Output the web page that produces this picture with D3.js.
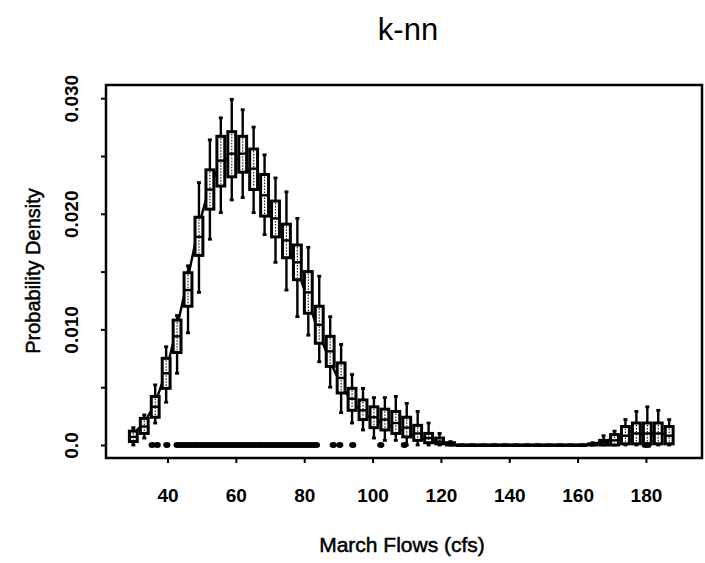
<!DOCTYPE html>
<meta charset="utf-8">
<style>
  body { margin: 0; background: #fff; }
  text { font-family: "Liberation Sans", Arial, sans-serif; fill: #000; }
  .tick text { font-size: 19px; font-weight: bold; }
  .lab { stroke: #000; stroke-width: 0.5px; }
</style>
<svg width="705" height="563"></svg>
<script src="https://d3js.org/d3.v7.min.js"></script>
<script>

// evaluation points (cfs)
var flows = [30, 33.2, 36.4, 39.6, 42.8, 46, 49.2, 52.4, 55.6, 58.8,
  62, 65.2, 68.4, 71.6, 74.8, 78, 81.2, 84.4, 87.6, 90.8,
  94, 97.2, 100.4, 103.6, 106.8, 110, 113.2, 116.4, 119.6, 122.8,
  126, 129.2, 132.4, 135.6, 138.8, 142, 145.2, 148.4, 151.6, 154.8,
  158, 161.2, 164.4, 167.6, 170.8, 174, 177.2, 180.4, 183.6, 186.8];

// boxplot stats of simulated densities at each point
var whiskLo = [0, .0006, .0019, .0037, .0062, .0097, .0132, .0178, .0201, .0212,
  .0214, .0201, .0182, .0158, .0134, .0111, .0095, .0072, .0050, .0028,
  .0019, .0013, .0006, .0004, .0004, 0, 0, 0, 0, 0,
  0, 0, 0, 0, 0, 0, 0, 0, 0, 0,
  0, 0, 0, 0, 0, 0, 0, 0, 0, 0];
var q1 = [.0003, .0010, .0024, .0049, .0080, .0120, .0164, .0204, .0224, .0232,
  .0236, .0221, .0198, .0180, .0162, .0143, .0114, .0088, .0068, .0045,
  .0030, .0022, .0015, .0013, .0010, .0007, .0004, .0002, .0001, 0,
  0, 0, 0, 0, 0, 0, 0, 0, 0, 0,
  0, 0, 0, 0, 0, .0001, .0001, .0001, .0001, .0001];
var med = [.0007, .0016, .0033, .0062, .0094, .0134, .0180, .0221, .0246, .0252,
  .0252, .0239, .0216, .0196, .0177, .0158, .0132, .0104, .0081, .0058,
  .0040, .0030, .0024, .0022, .0019, .0015, .0010, .0006, .0003, .0001,
  0, 0, 0, 0, 0, 0, 0, 0, 0, 0,
  0, 0, 0, .0002, .0004, .0008, .0010, .0010, .0010, .0008];
var q3 = [.0012, .0023, .0042, .0075, .0108, .0149, .0197, .0238, .0267, .0271,
  .0267, .0256, .0234, .0211, .0191, .0173, .0150, .0120, .0094, .0071,
  .0049, .0039, .0033, .0031, .0029, .0024, .0017, .0010, .0006, .0002,
  0, 0, 0, 0, 0, 0, 0, 0, 0, 0,
  0, 0, .0001, .0004, .0009, .0016, .0019, .0019, .0019, .0016];
var whiskHi = [.0015, .0026, .0052, .0085, .0112, .0155, .0227, .0264, .0283, .0299,
  .0290, .0275, .0251, .0231, .0219, .0196, .0171, .0146, .0111, .0087,
  .0061, .0049, .0041, .0041, .0042, .0036, .0029, .0019, .0010, .0003,
  0, 0, 0, 0, 0, 0, 0, 0, 0, 0,
  0, 0, .0002, .0008, .0012, .0022, .0029, .0033, .0030, .0022];

// density of the historical data
var curve = [.0010, .0019, .0036, .0064, .0102, .0145, .0190, .0225, .0243, .0250,
  .0245, .0232, .0212, .0192, .0173, .0152, .0124, .0096, .0072, .0052,
  .0037, .0028, .0022, .0019, .0015, .0011, .0007, .0004, .0002, .0000,
  0, 0, 0, 0, 0, 0, 0, 0, 0, 0,
  0, 0, .0001, .0003, .0006, .0008, .0009, .0010, .0010, .0009];

// observed March flows
var observed = [35.5, 37, 39.8, 42.8, 43.6, 44.4, 45.3, 46.1, 47, 47.9, 48.7, 49.6,
  50.4, 51.3, 52.1, 53, 53.8, 54.7, 55.5, 56.4, 57.2, 58.1, 58.9, 59.8,
  60.6, 61.5, 62.3, 63.2, 64, 64.9, 65.7, 66.6, 67.4, 68.3, 69.1, 70,
  70.8, 71.7, 72.5, 73.4, 74.2, 75.1, 75.9, 76.8, 77.6, 78.5, 79.3, 80.2,
  81, 81.9, 82.7, 83.6, 88.5, 90.4, 94.2, 102.4, 109.3, 179.8, 180.6];

var yTicks = [0, 0.005, 0.010, 0.015, 0.020, 0.025, 0.030];
var yLabels = ["0.0", "", "0.010", "", "0.020", "", "0.030"];
var xTicks = [40, 60, 80, 100, 120, 140, 160, 180];

var svg = d3.select("svg");
var x = d3.scaleLinear().domain([22, 196.4]).range([106, 702]);
var y = d3.scaleLinear().domain([-0.001125, 0.03114]).range([458, 85]);

svg.append("text")
  .attr("x", 408).attr("y", 40)
  .attr("text-anchor", "middle")
  .style("font-size", "31px")
  .text("k-nn");

// axes
var gx = svg.append("g")
  .attr("transform", "translate(0,458)")
  .call(d3.axisBottom(x).tickValues(xTicks).tickSize(5).tickPadding(26).tickFormat(d3.format("d")));
gx.select(".domain").remove();
gx.selectAll("line").attr("stroke-width", 2);

var gy = svg.append("g")
  .attr("transform", "translate(106,0)")
  .call(d3.axisLeft(y).tickValues(yTicks).tickSize(5)
    .tickFormat(function(d, i) { return yLabels[i]; }));
gy.select(".domain").remove();
gy.selectAll("line").attr("stroke-width", 2);
gy.selectAll("text")
  .attr("transform", "translate(-35,0) rotate(-90)")
  .attr("x", 0).attr("y", 0).attr("dy", "0.35em")
  .attr("text-anchor", "middle");

svg.append("rect")
  .attr("x", 106).attr("y", 85)
  .attr("width", 596).attr("height", 373)
  .attr("fill", "none").attr("stroke", "#000").attr("stroke-width", 2.5);

svg.append("text")
  .attr("class", "lab")
  .attr("transform", "translate(40," + 271 + ") rotate(-90)")
  .attr("text-anchor", "middle")
  .style("font-size", "20px")
  .text("Probability Density");

svg.append("text")
  .attr("class", "lab")
  .attr("x", 402).attr("y", 552)
  .attr("text-anchor", "middle")
  .style("font-size", "21px")
  .text("March Flows (cfs)");

// density curve
var line = d3.line()
  .x(function(d, i) { return x(flows[i]); })
  .y(function(d) { return y(d); });
svg.append("path")
  .datum(curve)
  .attr("d", line)
  .attr("fill", "none")
  .attr("stroke", "#000")
  .attr("stroke-width", 2.4);

// boxplots
var bw = (x(3.2) - x(0)) * 0.72;
var box = svg.selectAll(".box")
  .data(flows)
  .enter().append("g")
  .attr("class", "box")
  .attr("transform", function(d) { return "translate(" + x(d) + ",0)"; });

box.append("line")
  .attr("y1", function(d, i) { return y(whiskLo[i]); })
  .attr("y2", function(d, i) { return y(whiskHi[i]); })
  .attr("stroke", "#000").attr("stroke-width", 2.4);

box.append("line")
  .attr("x1", -2).attr("x2", 2)
  .attr("y1", function(d, i) { return y(whiskHi[i]); })
  .attr("y2", function(d, i) { return y(whiskHi[i]); })
  .attr("stroke", "#000").attr("stroke-width", 2.8);
box.append("line")
  .attr("x1", -2).attr("x2", 2)
  .attr("y1", function(d, i) { return y(whiskLo[i]); })
  .attr("y2", function(d, i) { return y(whiskLo[i]); })
  .attr("stroke", "#000").attr("stroke-width", 2.8);

box.append("rect")
  .attr("x", -bw / 2).attr("width", bw)
  .attr("y", function(d, i) { return y(q3[i]); })
  .attr("height", function(d, i) { return Math.max(0.5, y(q1[i]) - y(q3[i])); })
  .attr("fill", "#fff").attr("stroke", "#000").attr("stroke-width", 3);

box.append("line")
  .attr("x1", 0).attr("x2", 0)
  .attr("y1", function(d, i) { return y(q3[i]) + 2; })
  .attr("y2", function(d, i) { return Math.max(y(q3[i]) + 2, y(q1[i]) - 2); })
  .attr("stroke", "#222").attr("stroke-width", 1.2).attr("stroke-dasharray", "1.5,1.5");

box.append("line")
  .attr("x1", -bw / 2).attr("x2", bw / 2)
  .attr("y1", function(d, i) { return y(med[i]); })
  .attr("y2", function(d, i) { return y(med[i]); })
  .attr("stroke", "#000").attr("stroke-width", 2.4);

// observed data rug
svg.selectAll(".obs")
  .data(observed)
  .enter().append("ellipse")
  .attr("class", "obs")
  .attr("cx", function(d) { return x(d); })
  .attr("cy", y(0))
  .attr("rx", 3.6).attr("ry", 3)
  .attr("fill", "#000");

</script>
